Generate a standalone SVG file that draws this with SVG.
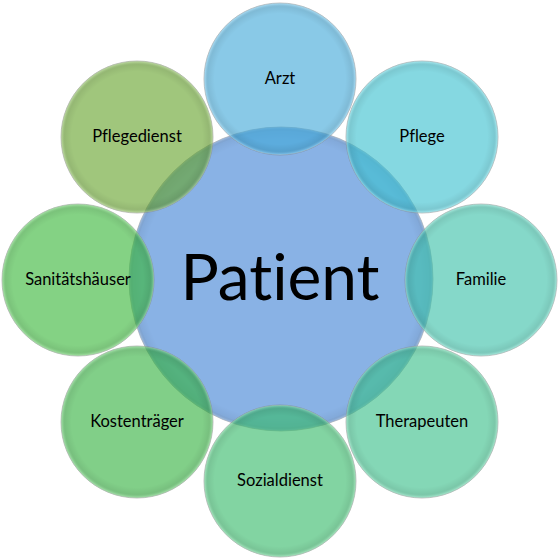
<svg xmlns="http://www.w3.org/2000/svg" width="560" height="560" viewBox="0 0 560 560">
  <defs>
    <radialGradient id="bevel" cx="0.5" cy="0.5" r="0.5">
      <stop offset="0" stop-color="#000" stop-opacity="0"/>
      <stop offset="0.86" stop-color="#000" stop-opacity="0"/>
      <stop offset="0.95" stop-color="#000" stop-opacity="0.07"/>
      <stop offset="0.985" stop-color="#fff" stop-opacity="0.15"/>
      <stop offset="1" stop-color="#fff" stop-opacity="0.35"/>
    </radialGradient>
    <radialGradient id="bevelC" cx="0.5" cy="0.5" r="0.5">
      <stop offset="0" stop-color="#000" stop-opacity="0"/>
      <stop offset="0.92" stop-color="#000" stop-opacity="0"/>
      <stop offset="0.975" stop-color="#000" stop-opacity="0.05"/>
      <stop offset="1" stop-color="#fff" stop-opacity="0.3"/>
    </radialGradient>
  </defs>
  <style>
    .c { fill-opacity: 0.62; stroke: #7a7a7a; stroke-opacity: 0.45; stroke-width: 1; }
    .b { fill: url(#bevel); }
    .bc { fill: url(#bevelC); }
    .t { font-family: Lato, "Open Sans", "Liberation Sans", sans-serif; font-size: 16.5px; fill: #000; text-anchor: middle; font-variant-ligatures: none; font-feature-settings: "liga" 0; }
    .tc { font-family: Lato, "Open Sans", "Liberation Sans", sans-serif; font-size: 64px; fill: #000; text-anchor: middle; font-variant-ligatures: none; font-feature-settings: "liga" 0; }
  </style>
  <rect width="560" height="560" fill="#fff"/>
  <g id="connectors"/>
  <g id="patient">
    <circle class="c" cx="281" cy="279" r="152" fill="#4182d5"/>
    <circle class="bc" cx="281" cy="279" r="152"/>
    <text class="tc" x="280" y="300">Patient</text>
  </g>
  <g id="arzt">
    <circle class="c" cx="280" cy="79" r="76" fill="#41a8d9"/>
    <circle class="b" cx="280" cy="79" r="76"/>
    <text class="t" x="280" y="84">Arzt</text>
  </g>
  <g id="pflege">
    <circle class="c" cx="422" cy="137" r="76" fill="#3ac0cf"/>
    <circle class="b" cx="422" cy="137" r="76"/>
    <text class="t" x="422" y="142">Pflege</text>
  </g>
  <g id="familie">
    <circle class="c" cx="481" cy="280" r="76" fill="#3ac0a8"/>
    <circle class="b" cx="481" cy="280" r="76"/>
    <text class="t" x="481" y="285">Familie</text>
  </g>
  <g id="therapeuten">
    <circle class="c" cx="422" cy="422" r="76" fill="#39be89"/>
    <circle class="b" cx="422" cy="422" r="76"/>
    <text class="t" x="422" y="427">Therapeuten</text>
  </g>
  <g id="sozialdienst">
    <circle class="c" cx="280" cy="481" r="76" fill="#35b969"/>
    <circle class="b" cx="280" cy="481" r="76"/>
    <text class="t" x="280" y="486">Sozialdienst</text>
  </g>
  <g id="kostentraeger">
    <circle class="c" cx="137" cy="422" r="76" fill="#34b23f"/>
    <circle class="b" cx="137" cy="422" r="76"/>
    <text class="t" x="137" y="427">Kostenträger</text>
  </g>
  <g id="sanitaetshaeuser">
    <circle class="c" cx="78" cy="280" r="76" fill="#39b639"/>
    <circle class="b" cx="78" cy="280" r="76"/>
    <text class="t" x="78" y="285">Sanitätshäuser</text>
  </g>
  <g id="pflegedienst">
    <circle class="c" cx="137" cy="137" r="76" fill="#66a32b"/>
    <circle class="b" cx="137" cy="137" r="76"/>
    <text class="t" x="137" y="142">Pflegedienst</text>
  </g>
</svg>
